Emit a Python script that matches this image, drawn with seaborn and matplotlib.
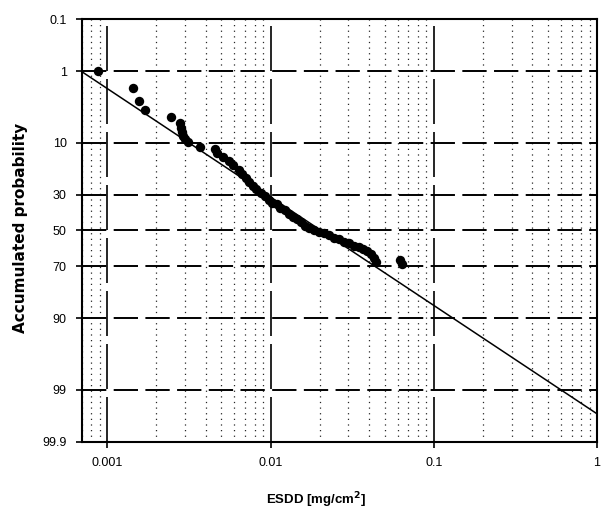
import numpy as np
import pandas as pd
import matplotlib
matplotlib.use("Agg")
import matplotlib.pyplot as plt
from matplotlib.ticker import LogLocator, NullLocator, NullFormatter, FixedLocator
import seaborn as sns
from statistics import NormalDist

# ---- data ----
esdd = [0.000877, 0.00143, 0.001556, 0.001694, 0.00247, 0.00277, 0.00281, 0.00285,
        0.00293, 0.00301, 0.00314, 0.00372, 0.0046, 0.00473, 0.00508, 0.00553,
        0.00593, 0.00637, 0.00673, 0.00703, 0.00743, 0.00776, 0.0082, 0.00869,
        0.00919, 0.00972, 0.01028, 0.01088, 0.01151, 0.01219, 0.01289, 0.01365,
        0.01445, 0.01528, 0.01618, 0.0171, 0.01836, 0.01968, 0.02113, 0.0227,
        0.02436, 0.02612, 0.02805, 0.03013, 0.03228, 0.03467, 0.03667, 0.03882,
        0.04106, 0.04285, 0.04406, 0.0618, 0.0636]
prob = [1.0, 1.9, 2.9, 3.9, 4.8, 5.8, 6.7, 7.5,
        8.3, 9.0, 9.7, 11.0, 11.6, 12.8, 14.0, 15.4,
        16.8, 18.7, 20.3, 22.0, 23.8, 25.6, 27.0, 29.0,
        30.5, 32.6, 34.2, 35.2, 36.9, 38.5, 40.2, 41.9,
        43.6, 45.3, 47.1, 48.8, 50.0, 50.6, 51.7, 52.9,
        54.1, 55.2, 56.4, 57.5, 58.7, 59.8, 60.9, 62.0,
        63.7, 65.8, 67.9, 66.9, 69.0]

# fitted log-normal line (end points)
fit_x = [0.0007, 1.0]
fit_p = [1.02, 99.63]

x_ticks = [0.001, 0.01, 0.1, 1]
x_ticklabels = ["0.001", "0.01", "0.1", "1"]
y_ticks = [0.1, 1, 10, 30, 50, 70, 90, 99, 99.9]
y_ticklabels = ["0.1", "1", "10", "30", "50", "70", "90", "99", "99.9"]

pts = pd.DataFrame({"esdd": esdd, "prob": prob})
fit = pd.DataFrame({"esdd": fit_x, "prob": fit_p})

# ---- style ----
sns.set_theme(style="white")
plt.rcParams["font.family"] = ["Liberation Sans", "DejaVu Sans"]

fig = plt.figure(figsize=(6.01, 5.13), dpi=100)
ax = fig.add_axes([82 / 601, 1 - 442 / 513, 515 / 601, 423 / 513])

sns.lineplot(data=fit, x="esdd", y="prob", ax=ax, color="black", linewidth=1.1,
             sort=False, zorder=3)
sns.scatterplot(data=pts, x="esdd", y="prob", ax=ax, color="black", s=46,
                edgecolor="black", linewidth=0, zorder=4)

# normal probability scale
_nd = NormalDist()
_ppf = np.vectorize(_nd.inv_cdf, otypes=[float])
_cdf = np.vectorize(_nd.cdf, otypes=[float])


def fwd(p):
    p = np.asarray(p, dtype=float)
    q = np.clip(p / 100.0, 1e-9, 1 - 1e-9)
    return _ppf(q)


def inv(z):
    z = np.asarray(z, dtype=float)
    return _cdf(z) * 100.0


ax.set_xscale("log")
ax.set_yscale("function", functions=(fwd, inv))
ax.set_xlim(0.0007, 1.0)
ax.set_ylim(99.9, 0.1)

ax.xaxis.set_major_locator(FixedLocator(x_ticks))
ax.set_xticklabels(x_ticklabels)
ax.xaxis.set_minor_locator(LogLocator(base=10, subs=np.arange(2, 10)))
ax.xaxis.set_minor_formatter(NullFormatter())
ax.yaxis.set_major_locator(FixedLocator(y_ticks))
ax.set_yticklabels(y_ticklabels)
ax.yaxis.set_minor_locator(NullLocator())

# grids
ax.grid(axis="y", which="major", color="black", linewidth=1.4,
        linestyle=(0, (12.5, 3.8)))
ax.grid(axis="x", which="major", color="black", linewidth=1.2,
        linestyle=(0, (27, 4.8)))
ax.grid(axis="x", which="minor", color="black", linewidth=0.9, alpha=0.85,
        linestyle=(0, (1, 3.5)))

ax.tick_params(axis="both", which="major", direction="out", length=4,
               width=1.2, color="black", labelsize=9, pad=7,
               bottom=True, left=True, top=False, right=False, labelcolor="black")
ax.tick_params(axis="x", which="minor", length=0)

for s in ax.spines.values():
    s.set_visible(True)
    s.set_color("black")
    s.set_linewidth(1.5)

ax.set_xlabel("ESDD [mg/cm$^\\mathbf{2}$]", fontsize=9.5, fontweight="bold",
              color="black", va="center")
ax.set_ylabel("Accumulated probability", fontsize=11, fontweight="bold",
              color="black", va="center", family=["DejaVu Sans"])
ax.xaxis.set_label_coords((316 - 82) / 515, -(500 - 442) / 423)
ax.yaxis.set_label_coords((21 - 82) / 515, (442 - 228) / 423)

fig.savefig("out.png", dpi=100)
